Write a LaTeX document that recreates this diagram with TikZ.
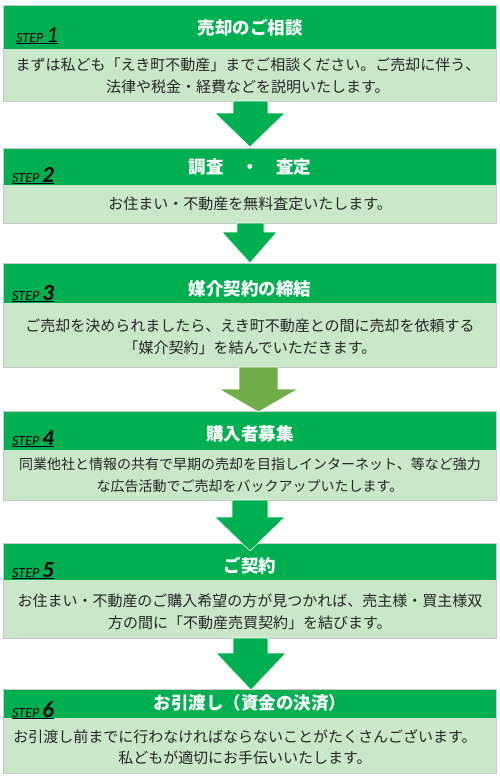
\documentclass[tikz,border=0pt]{standalone}
\usepackage{fontspec}
\newfontfamily\jp{Noto Sans CJK JP}
\newfontfamily\stepf{Carlito}
\definecolor{hdr}{HTML}{00B050}
\definecolor{lt}{HTML}{CAE7CA}
\definecolor{olivegr}{HTML}{70AD47}
\definecolor{bd}{HTML}{C5CCC5}
\definecolor{txt}{HTML}{262626}
\newcommand{\stepnum}[1]{{\fontsize{23}{23}\selectfont\bfseries #1}}
\newcommand{\stepnumthin}[1]{{\fontsize{23}{23}\selectfont #1}}
\begin{document}
\begin{tikzpicture}[x=1pt,y=-1pt,
  hdrbox/.style={fill=hdr, draw=none, inner sep=0pt, minimum width=492pt, anchor=north},
  ltbox/.style={fill=lt, draw=none, inner sep=0pt, minimum width=492pt, anchor=north},
  frame/.style={draw=bd, line width=0.8pt},
  title/.style={font=\jp\bfseries\fontsize{17.5}{19}\selectfont, text=white, inner sep=0pt},
  lbl/.style={font=\stepf\itshape\fontsize{14}{14}\selectfont, text=black, inner sep=0pt, anchor=base west},
  body/.style={font=\jp\fontsize{15}{21.5}\selectfont, text=txt, align=center, inner sep=0pt},
  bodys/.style={font=\jp\fontsize{14}{21.5}\selectfont, text=txt, align=center, inner sep=0pt},
  arr/.style={fill=hdr, draw=white, line width=0.6pt},
  arrolive/.style={fill=olivegr, draw=white, line width=0.6pt}
]
\useasboundingbox (0,0) rectangle (500,780);
\fill[white] (0,0) rectangle (500,780);

% STEP 1
\node[hdrbox, minimum height=44pt] (h1) at (250,5) {};
\node[ltbox, minimum height=52pt] (b1) at (250,49) {};
\draw[frame] (h1.north west) rectangle (b1.south east);
\node[title] (t1) at (250,28) {売却のご相談};
\node[lbl] (s1) at (16,42) {\underline{STEP \stepnumthin{1}}};
\node[body] (d1) at (248,76) {まずは私ども「えき町不動産」までご相談ください。ご売却に伴う、\\法律や税金・経費などを説明いたします。};

% STEP 2
\node[hdrbox, minimum height=37pt] (h2) at (250,148) {};
\node[ltbox, minimum height=38pt] (b2) at (250,185) {};
\draw[frame] (h2.north west) rectangle (b2.south east);
\node[title] (t2) at (250,167) {調査　・　査定};
\node[lbl] (s2) at (12,182) {\underline{STEP \stepnum{2}}};
\node[body] (d2) at (250,204) {お住まい・不動産を無料査定いたします。};

% STEP 3
\node[hdrbox, minimum height=40pt] (h3) at (250,263) {};
\node[ltbox, minimum height=64pt] (b3) at (250,303) {};
\draw[frame] (h3.north west) rectangle (b3.south east);
\node[title] (t3) at (250,289) {媒介契約の締結};
\node[lbl] (s3) at (12,300) {\underline{STEP \stepnum{3}}};
\node[body] (d3) at (250,337) {ご売却を決められましたら、えき町不動産との間に売却を依頼する\\「媒介契約」を結んでいただきます。};

% STEP 4
\node[hdrbox, minimum height=39pt] (h4) at (250,411) {};
\node[ltbox, minimum height=50pt] (b4) at (250,450) {};
\draw[frame] (h4.north west) rectangle (b4.south east);
\node[title] (t4) at (250,434) {購入者募集};
\node[lbl] (s4) at (12,445) {\underline{STEP \stepnum{4}}};
\node[bodys] (d4) at (250,475) {同業他社と情報の共有で早期の売却を目指しインターネット、等など強力\\な広告活動でご売却をバックアップいたします。};

% STEP 5
\node[hdrbox, minimum height=37pt] (h5) at (250,543) {};
\node[ltbox, minimum height=58pt] (b5) at (250,580) {};
\draw[frame] (h5.north west) rectangle (b5.south east);
\node[title] (t5) at (250,566) {ご契約};
\node[lbl] (s5) at (12,577) {\underline{STEP \stepnum{5}}};
\node[body] (d5) at (250,612) {お住まい・不動産のご購入希望の方が見つかれば、売主様・買主様双\\方の間に「不動産売買契約」を結びます。};

% STEP 6
\node[hdrbox, minimum height=29pt] (h6) at (250,689) {};
\node[ltbox, minimum height=55pt] (b6) at (250,718) {};
\draw[frame] (h6.north west) rectangle (b6.south east);
\node[title] (t6) at (250,703) {お引渡し（資金の決済）};
\node[lbl] (s6) at (12,717) {\underline{STEP \stepnum{6}}};
\node[body] (d6) at (245,747) {お引渡し前までに行わなければならないことがたくさんございます。\\私どもが適切にお手伝いいたします。};

% arrows
\filldraw[arr] (233,101) -- (268,101) -- (268,113) -- (285,113) -- (250,147) -- (215,113) -- (233,113) -- cycle;
\filldraw[arr] (237,223) -- (264,223) -- (264,232) -- (277,232) -- (250,263) -- (222,232) -- (237,232) -- cycle;
\filldraw[arrolive] (239,367) -- (278,367) -- (278,389) -- (298,389) -- (258.5,412) -- (219,389) -- (239,389) -- cycle;
\filldraw[arr] (232,500) -- (268,500) -- (268,517) -- (285,517) -- (250,551) -- (215,517) -- (232,517) -- cycle;
\filldraw[arr] (233,638) -- (268,638) -- (268,653) -- (286,653) -- (251,690) -- (216,653) -- (233,653) -- cycle;
\end{tikzpicture}
\end{document}
